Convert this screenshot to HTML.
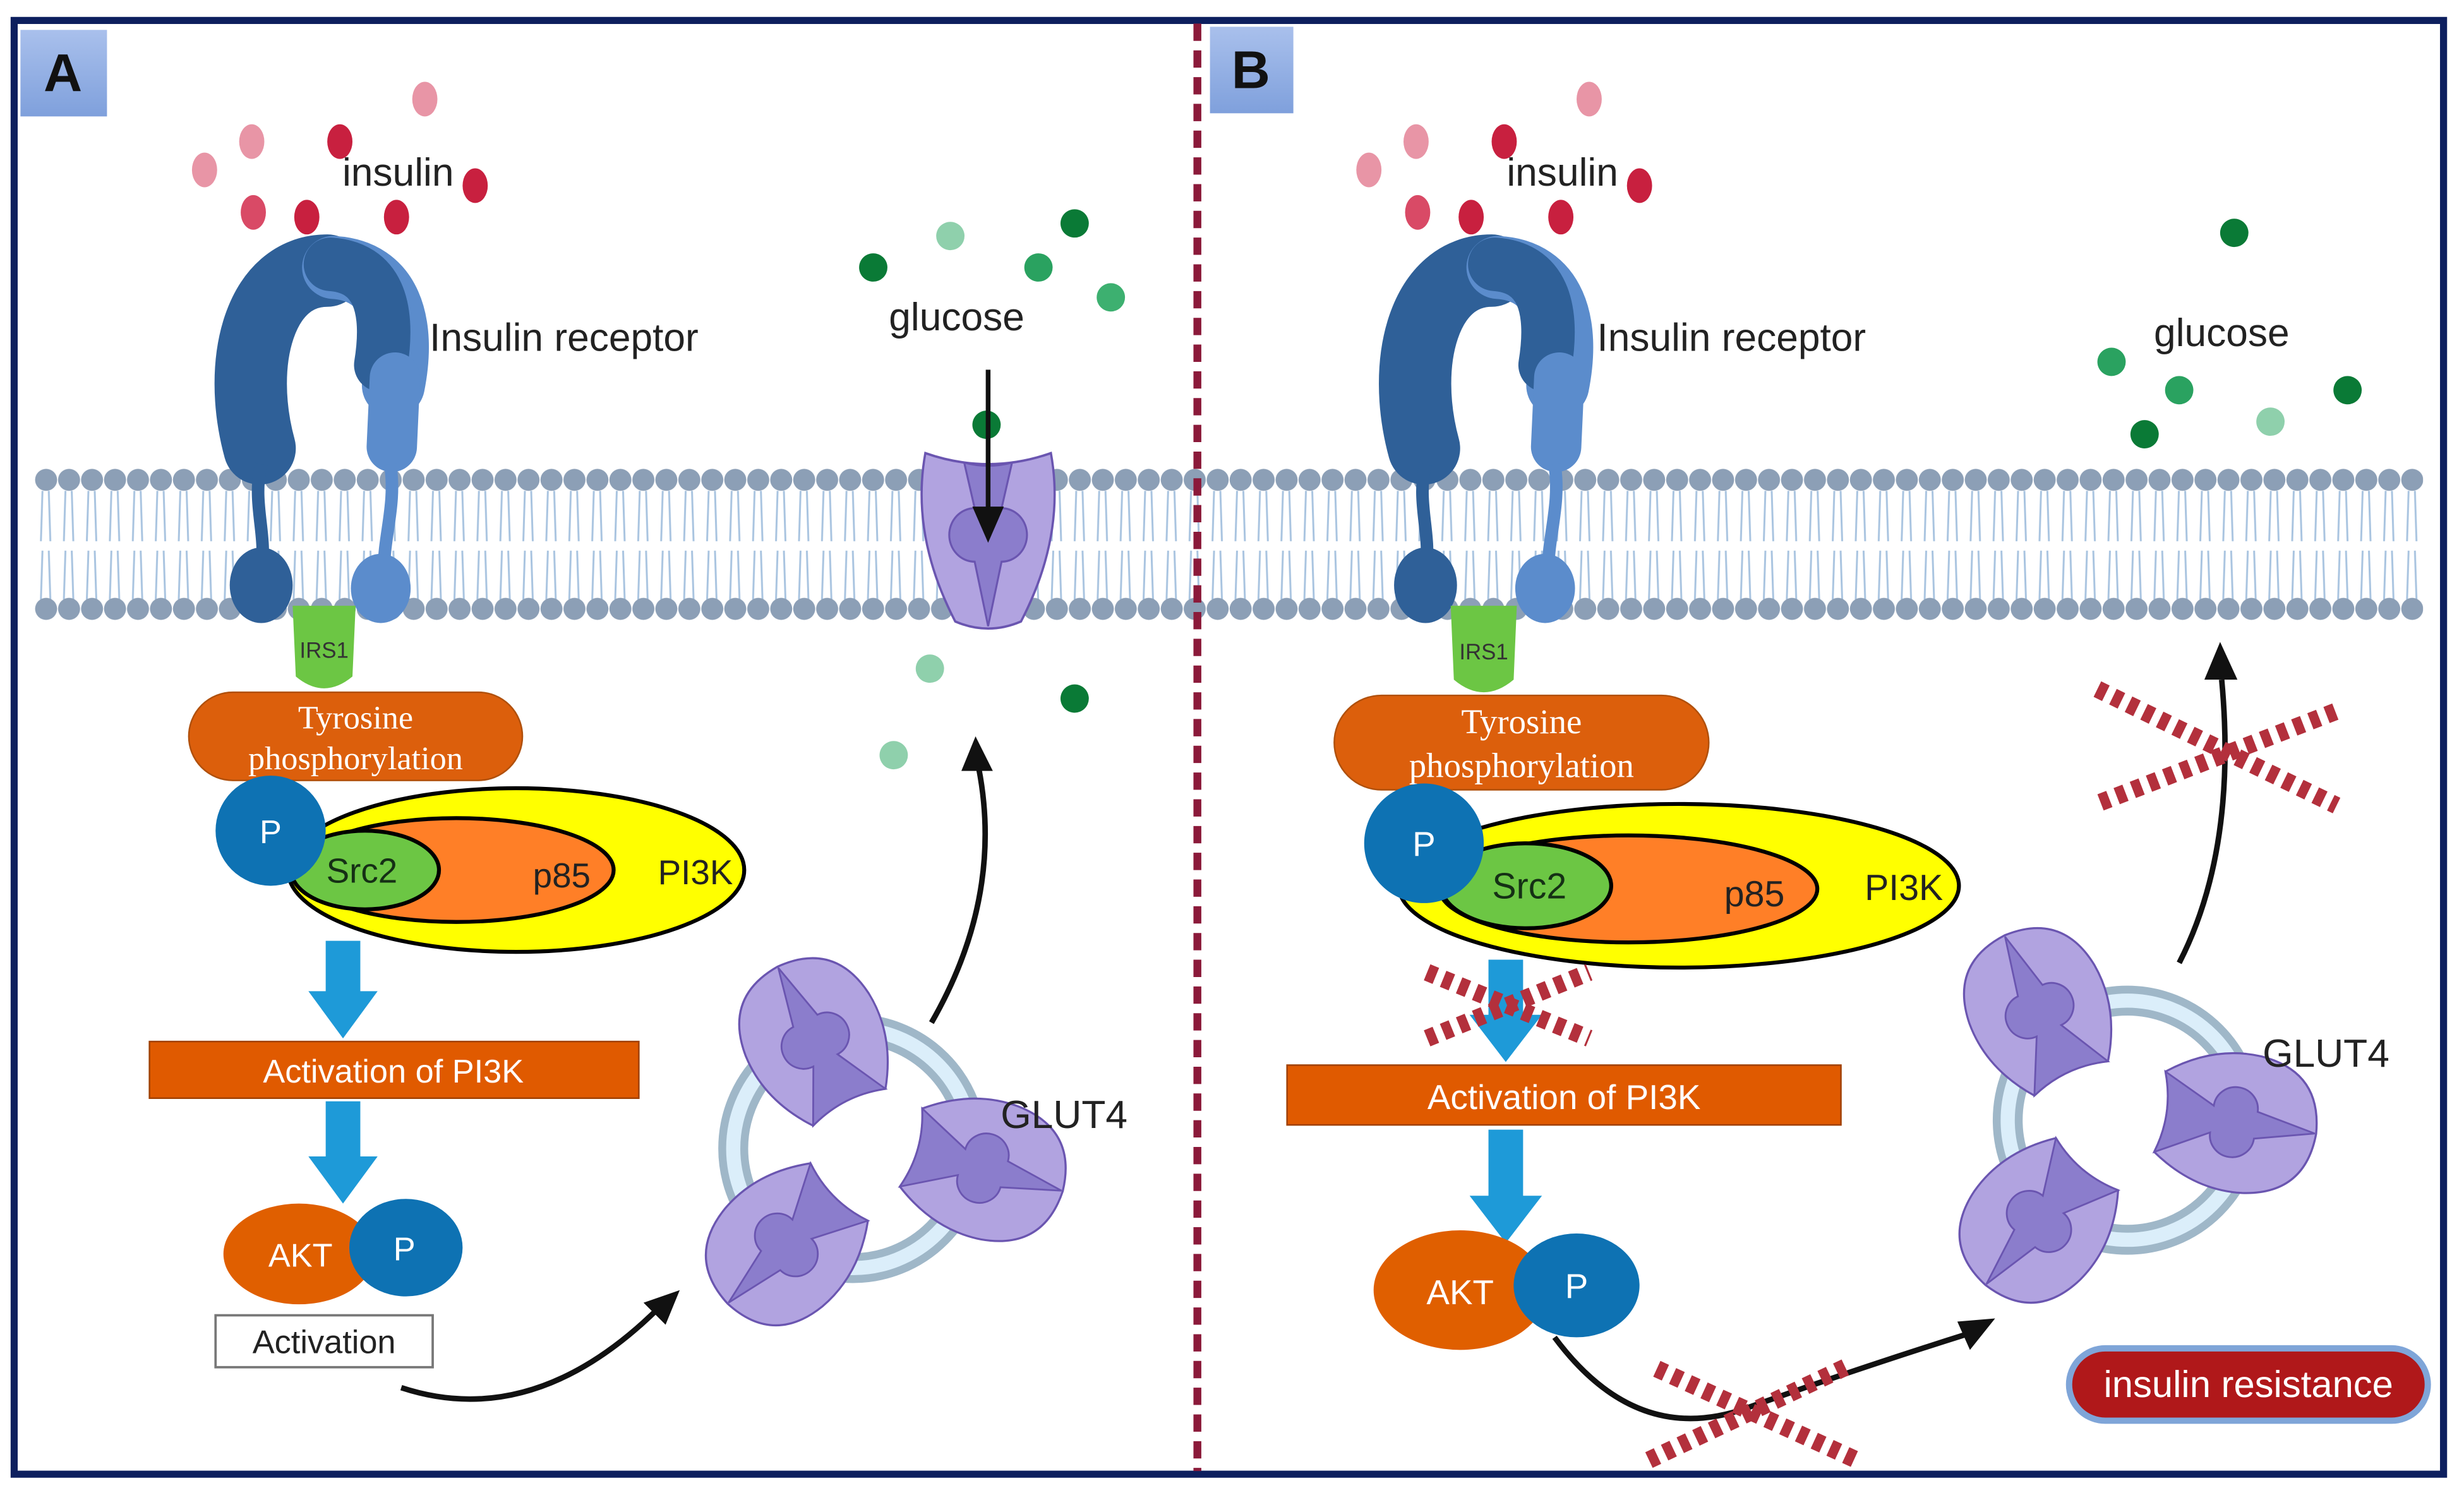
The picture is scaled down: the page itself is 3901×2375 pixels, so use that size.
<!DOCTYPE html>
<html><head><meta charset="utf-8">
<style>html,body{margin:0;padding:0;background:#fff;overflow:hidden}svg{display:block}
text{font-family:"Liberation Sans","DejaVu Sans",sans-serif}
text.serif{font-family:"Liberation Serif","DejaVu Serif",serif}</style></head>
<body>
<svg width="3901" height="2375" viewBox="0 0 1566 953.4" preserveAspectRatio="none" xmlns="http://www.w3.org/2000/svg">
<defs>
<pattern id="mem" x="22" y="0" width="14.6" height="953" patternUnits="userSpaceOnUse">
 <path d="M5,312 L4,344 M9,312 L10,344 M5,350 L4,381 M9,350 L10,381" stroke="#a9c4e0" stroke-width="1.2" fill="none"/>
 <circle cx="7.3" cy="305" r="7" fill="#8c9fb6"/>
 <circle cx="7.3" cy="387" r="7" fill="#8c9fb6"/>
</pattern>
<linearGradient id="lab" x1="0" y1="0" x2="0" y2="1"><stop offset="0" stop-color="#a9c0ec"/><stop offset="1" stop-color="#7fa0dc"/></linearGradient>
<g id="glut">
 <path d="M-42,-52 Q0,-38 42,-52 Q52,0 22,55 Q0,64 -22,55 Q-52,0 -42,-52Z" fill="#b1a3e0" stroke="#6a55b0" stroke-width="1.5"/>
 <path d="M-16,-46 Q0,-42 16,-46 L9,-17 A16,16 0 0 1 9,17 L0,58 L-9,17 A16,16 0 0 1 -9,-17 Z" fill="#8b7dcc" stroke="#6a55b0" stroke-width="1.3"/>
</g>
<g id="glut2">
 <path d="M-30,-52 Q0,-42 30,-52 Q54,-20 51,15 Q46,60 0,62 Q-46,60 -51,15 Q-54,-20 -30,-52Z" fill="#b1a3e0" stroke="#6a55b0" stroke-width="1.5"/>
 <path d="M-30,-52 Q0,-42 30,-52 L10,-14 A16,16 0 0 1 10,18 L0,61 L-10,18 A16,16 0 0 1 -10,-14 Z" fill="#8b7dcc" stroke="#6a55b0" stroke-width="1.3"/>
</g>
<g id="rec">
 <path d="M208,172 C165,172 150,230 165,285" stroke="#2f6098" stroke-width="46" fill="none" stroke-linecap="round"/>
 <path d="M212,170 C248,172 258,205 250,245" stroke="#5b8ccc" stroke-width="40" fill="none" stroke-linecap="round"/>
 <path d="M210,168 C240,170 248,195 242,232" stroke="#2f6098" stroke-width="34" fill="none" stroke-linecap="round"/>
 <path d="M251,240 L249,284" stroke="#5b8ccc" stroke-width="32" fill="none" stroke-linecap="round"/>
 <path d="M166,295 C160,320 170,340 166,362" stroke="#2f6098" stroke-width="8" fill="none"/>
 <path d="M248,295 C252,320 244,340 244,362" stroke="#5b8ccc" stroke-width="8" fill="none"/>
 <ellipse cx="166" cy="372" rx="20" ry="24" fill="#2f6098"/>
 <ellipse cx="242" cy="374" rx="19" ry="22" fill="#5b8ccc"/>
</g>
</defs>
<rect width="1566" height="953.4" fill="#fff"/>
<rect x="22" y="290" width="1518" height="110" fill="url(#mem)"/>
<rect x="9" y="13" width="1544" height="924" fill="none" stroke="#0d1f5e" stroke-width="4.5"/>
<line x1="761" y1="15" x2="761" y2="935" stroke="#8b1a3a" stroke-width="5" stroke-dasharray="11,6"/>
<rect x="13" y="19" width="55" height="55" fill="url(#lab)"/>
<text x="40" y="58" font-size="34" font-weight="bold" text-anchor="middle" fill="#111">A</text>
<rect x="769" y="17" width="53" height="55" fill="url(#lab)"/>
<text x="795" y="56" font-size="34" font-weight="bold" text-anchor="middle" fill="#111">B</text>

<use href="#rec"/>
<use href="#rec" transform="translate(740,0)"/>
<g>
<ellipse cx="130" cy="108" rx="8" ry="11" fill="#e895a6"/><ellipse cx="160" cy="90" rx="8" ry="11" fill="#e895a6"/>
<ellipse cx="216" cy="90" rx="8" ry="11" fill="#c8203f"/><ellipse cx="270" cy="63" rx="8" ry="11" fill="#e895a6"/>
<ellipse cx="302" cy="118" rx="8" ry="11" fill="#c8203f"/><ellipse cx="161" cy="135" rx="8" ry="11" fill="#d94a66"/>
<ellipse cx="195" cy="138" rx="8" ry="11" fill="#c8203f"/><ellipse cx="252" cy="138" rx="8" ry="11" fill="#c8203f"/>
</g>
<g transform="translate(740,0)">
<ellipse cx="130" cy="108" rx="8" ry="11" fill="#e895a6"/><ellipse cx="160" cy="90" rx="8" ry="11" fill="#e895a6"/>
<ellipse cx="216" cy="90" rx="8" ry="11" fill="#c8203f"/><ellipse cx="270" cy="63" rx="8" ry="11" fill="#e895a6"/>
<ellipse cx="302" cy="118" rx="8" ry="11" fill="#c8203f"/><ellipse cx="161" cy="135" rx="8" ry="11" fill="#d94a66"/>
<ellipse cx="195" cy="138" rx="8" ry="11" fill="#c8203f"/><ellipse cx="252" cy="138" rx="8" ry="11" fill="#c8203f"/>
</g>
<text x="253" y="118" font-size="25" text-anchor="middle" fill="#222">insulin</text>
<text x="993" y="118" font-size="25" text-anchor="middle" fill="#222">insulin</text>
<text x="273" y="223" font-size="25" fill="#222">Insulin receptor</text>
<text x="1015" y="223" font-size="25" fill="#222">Insulin receptor</text>

<g>
<circle cx="555" cy="170" r="9" fill="#0a7a36"/><circle cx="604" cy="150" r="9" fill="#8fd0ac"/>
<circle cx="660" cy="170" r="9" fill="#2aa260"/><circle cx="683" cy="142" r="9" fill="#0a7a36"/>
<circle cx="706" cy="189" r="9" fill="#3db070"/><circle cx="591" cy="425" r="9" fill="#8fd0ac"/>
<circle cx="683" cy="444" r="9" fill="#0a7a36"/><circle cx="568" cy="480" r="9" fill="#8fd0ac"/>
</g>
<text x="608" y="210" font-size="25" text-anchor="middle" fill="#222">glucose</text>
<g>
<circle cx="1420" cy="148" r="9" fill="#0a7a36"/><circle cx="1342" cy="230" r="9" fill="#2aa260"/>
<circle cx="1385" cy="248" r="9" fill="#2aa260"/><circle cx="1492" cy="248" r="9" fill="#0a7a36"/>
<circle cx="1363" cy="276" r="9" fill="#0a7a36"/><circle cx="1443" cy="268" r="9" fill="#8fd0ac"/>
</g>
<text x="1412" y="220" font-size="25" text-anchor="middle" fill="#222">glucose</text>

<use href="#glut" transform="translate(628,340) scale(0.95,1)"/>
<circle cx="627" cy="270" r="9" fill="#0a7a36"/>
<line x1="628" y1="235" x2="628" y2="325" stroke="#111" stroke-width="3"/>
<path d="M618,322 L638,322 L628,345 Z" fill="#111"/>

<circle cx="542" cy="730" r="76" fill="none" stroke="#dbeefa" stroke-width="14"/>
<circle cx="542" cy="730" r="83" fill="none" stroke="#9fb7c8" stroke-width="5"/>
<circle cx="542" cy="730" r="69" fill="none" stroke="#9fb7c8" stroke-width="5"/>
<use href="#glut2" transform="translate(519,663) rotate(153) scale(0.86,0.88)"/>
<use href="#glut2" transform="translate(623,742) rotate(-74) scale(0.86,0.88)"/>
<use href="#glut2" transform="translate(501,790) rotate(45) scale(0.86,0.88)"/>
<text x="636" y="717" font-size="25" fill="#222">GLUT4</text>

<circle cx="1352" cy="712" r="76" fill="none" stroke="#dbeefa" stroke-width="14"/>
<circle cx="1352" cy="712" r="83" fill="none" stroke="#9fb7c8" stroke-width="5"/>
<circle cx="1352" cy="712" r="69" fill="none" stroke="#9fb7c8" stroke-width="5"/>
<use href="#glut2" transform="translate(1297,644) rotate(155) scale(0.86,0.88)"/>
<use href="#glut2" transform="translate(1418,713) rotate(-82) scale(0.86,0.88)"/>
<use href="#glut2" transform="translate(1297,775) rotate(40) scale(0.86,0.88)"/>
<text x="1438" y="678" font-size="25" fill="#222">GLUT4</text>

<path d="M186,385 L226,385 L224,430 Q206,445 188,430 Z" fill="#6cc644"/>
<text x="206" y="418" font-size="14" text-anchor="middle" fill="#333">IRS1</text>
<rect x="120" y="440" width="212" height="56" rx="28" fill="#dc5f0c" stroke="#b0500c"/>
<text class="serif" x="226" y="463" font-size="21" text-anchor="middle" fill="#fff">Tyrosine</text>
<text class="serif" x="226" y="489" font-size="21" text-anchor="middle" fill="#fff">phosphorylation</text>
<ellipse cx="328" cy="553" rx="145" ry="52" fill="#ffff00" stroke="#000" stroke-width="2.5"/>
<ellipse cx="290" cy="553" rx="100" ry="33" fill="#ff7f27" stroke="#000" stroke-width="2.5"/>
<ellipse cx="232" cy="553" rx="47" ry="25" fill="#6cc644" stroke="#000" stroke-width="2.5"/>
<circle cx="172" cy="528" r="35" fill="#0e72b3"/>
<text x="172" y="536" font-size="21" text-anchor="middle" fill="#fff">P</text>
<text x="230" y="561" font-size="22" text-anchor="middle" fill="#153015">Src2</text>
<text x="357" y="564" font-size="22" text-anchor="middle" fill="#222">p85</text>
<text x="442" y="562" font-size="22" text-anchor="middle" fill="#222">PI3K</text>
<path d="M207,598 L229,598 L229,630 L240,630 L218,660 L196,630 L207,630 Z" fill="#1e9ad8"/>
<rect x="95" y="662" width="311" height="36" fill="#e05a00" stroke="#a04000"/>
<text x="250" y="688" font-size="21" text-anchor="middle" fill="#fff">Activation of PI3K</text>
<path d="M207,700 L229,700 L229,735 L240,735 L218,765 L196,735 L207,735 Z" fill="#1e9ad8"/>
<ellipse cx="190" cy="797" rx="48" ry="32" fill="#e05f00"/>
<ellipse cx="258" cy="793" rx="36" ry="31" fill="#0e72b3"/>
<text x="191" y="805" font-size="21" text-anchor="middle" fill="#fff">AKT</text>
<text x="257" y="801" font-size="21" text-anchor="middle" fill="#fff">P</text>
<rect x="137" y="836" width="138" height="33" fill="#fff" stroke="#777" stroke-width="1.5"/>
<text x="206" y="860" font-size="21" text-anchor="middle" fill="#222">Activation</text>
<path d="M255,882 Q340,910 420,830" stroke="#111" stroke-width="3.5" fill="none"/>
<path d="M432,820 L409,828 L423,842 Z" fill="#111"/>
<path d="M592,650 Q638,570 622,488" stroke="#111" stroke-width="3.5" fill="none"/>
<path d="M620,468 L611,490 L631,490 Z" fill="#111"/>

<path d="M922,385 L964,385 L962,432 Q943,448 924,432 Z" fill="#6cc644"/>
<text x="943" y="419" font-size="14" text-anchor="middle" fill="#333">IRS1</text>
<rect x="848" y="442" width="238" height="60" rx="30" fill="#dc5f0c" stroke="#b0500c"/>
<text class="serif" x="967" y="466" font-size="22" text-anchor="middle" fill="#fff">Tyrosine</text>
<text class="serif" x="967" y="494" font-size="22" text-anchor="middle" fill="#fff">phosphorylation</text>
<ellipse cx="1067" cy="563" rx="178" ry="52" fill="#ffff00" stroke="#000" stroke-width="2.5"/>
<ellipse cx="1035" cy="565" rx="120" ry="34" fill="#ff7f27" stroke="#000" stroke-width="2.5"/>
<ellipse cx="970" cy="563" rx="54" ry="27" fill="#6cc644" stroke="#000" stroke-width="2.5"/>
<circle cx="905" cy="536" r="38" fill="#0e72b3"/>
<text x="905" y="544" font-size="22" text-anchor="middle" fill="#fff">P</text>
<text x="972" y="571" font-size="23" text-anchor="middle" fill="#153015">Src2</text>
<text x="1115" y="576" font-size="23" text-anchor="middle" fill="#222">p85</text>
<text x="1210" y="572" font-size="23" text-anchor="middle" fill="#222">PI3K</text>
<path d="M946,610 L968,610 L968,645 L980,645 L957,675 L934,645 L946,645 Z" fill="#1e9ad8"/>
<rect x="818" y="677" width="352" height="38" fill="#e05a00" stroke="#a04000"/>
<text x="994" y="705" font-size="22" text-anchor="middle" fill="#fff">Activation of PI3K</text>
<path d="M946,718 L968,718 L968,760 L980,760 L957,790 L934,760 L946,760 Z" fill="#1e9ad8"/>
<ellipse cx="928" cy="820" rx="55" ry="38" fill="#e05f00"/>
<ellipse cx="1002" cy="817" rx="40" ry="33" fill="#0e72b3"/>
<text x="928" y="829" font-size="22" text-anchor="middle" fill="#fff">AKT</text>
<text x="1002" y="825" font-size="22" text-anchor="middle" fill="#fff">P</text>
<path d="M988,850 Q1040,920 1110,895 Q1180,870 1250,848" stroke="#111" stroke-width="3.5" fill="none"/>
<path d="M1268,838 L1244,840 L1252,858 Z" fill="#111"/>
<path d="M1385,612 Q1422,540 1412,432" stroke="#111" stroke-width="3.5" fill="none"/>
<path d="M1411,408 L1401,432 L1422,432 Z" fill="#111"/>

<g stroke="#b3303c" stroke-width="11" stroke-dasharray="6,5" fill="none">
 <line x1="907" y1="618" x2="1010" y2="660"/><line x1="907" y1="660" x2="1010" y2="618"/>
 <line x1="1333" y1="438" x2="1485" y2="512"/><line x1="1335" y1="510" x2="1485" y2="452"/>
 <line x1="1053" y1="870" x2="1180" y2="928"/><line x1="1048" y1="928" x2="1175" y2="868"/>
</g>

<rect x="1315" y="857" width="228" height="46" rx="23" fill="#b0181a" stroke="#7fa5d8" stroke-width="4"/>
<text x="1429" y="888" font-size="24" text-anchor="middle" fill="#fff">insulin resistance</text>
</svg>
</body></html>
